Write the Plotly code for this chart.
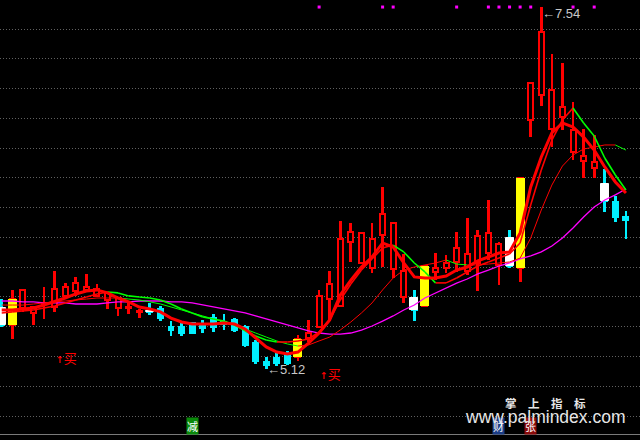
import plotly.graph_objects as go

# ---------------- data ----------------
idx = list(range(60))
open_p = [5.528, 5.415, 5.528, 5.495, 5.555, 5.535, 5.609, 5.642, 5.649, 5.609,
          5.582, 5.528, 5.528, 5.502, 5.508, 5.522, 5.401, 5.401, 5.428, 5.421,
          5.461, 5.435, 5.448, 5.401, 5.294, 5.167, 5.194, 5.214, 5.201, 5.328,
          5.401, 5.588, 5.542, 5.969, 5.829, 5.796, 6.016, 5.789, 5.602, 5.595,
          5.542, 5.769, 5.796, 5.836, 5.776, 5.829, 5.896, 5.816, 5.996, 5.796,
          6.785, 6.952, 6.725, 6.805, 6.571, 6.511, 6.464, 6.357, 6.237, 6.137]
high_p = [5.588, 5.649, 5.649, 5.542, 5.669, 5.776, 5.695, 5.735, 5.756, 5.689,
          5.635, 5.602, 5.562, 5.522, 5.562, 5.542, 5.441, 5.435, 5.435, 5.448,
          5.488, 5.488, 5.462, 5.415, 5.314, 5.201, 5.228, 5.241, 5.348, 5.448,
          5.649, 5.776, 6.110, 6.096, 6.030, 6.096, 6.337, 6.096, 5.889, 5.649,
          5.809, 5.896, 5.883, 6.036, 6.130, 6.050, 6.250, 5.969, 6.050, 6.397,
          7.032, 7.540, 7.226, 7.166, 6.905, 6.725, 6.685, 6.457, 6.277, 6.177]
low_p = [5.401, 5.321, 5.502, 5.415, 5.455, 5.502, 5.588, 5.609, 5.635, 5.602,
         5.522, 5.475, 5.488, 5.461, 5.481, 5.441, 5.341, 5.341, 5.354, 5.361,
         5.368, 5.381, 5.368, 5.268, 5.154, 5.120, 5.141, 5.147, 5.174, 5.301,
         5.395, 5.448, 5.542, 5.836, 5.829, 5.762, 5.802, 5.729, 5.562, 5.441,
         5.542, 5.715, 5.762, 5.769, 5.749, 5.642, 5.849, 5.682, 5.796, 5.702,
         6.671, 6.879, 6.604, 6.718, 6.518, 6.397, 6.397, 6.170, 6.103, 5.990]
close_p = [5.415, 5.588, 5.649, 5.535, 5.562, 5.655, 5.669, 5.695, 5.669, 5.655,
           5.629, 5.595, 5.535, 5.508, 5.502, 5.461, 5.381, 5.361, 5.361, 5.395,
           5.401, 5.421, 5.381, 5.281, 5.174, 5.147, 5.161, 5.161, 5.321, 5.361,
           5.609, 5.689, 5.989, 6.036, 6.030, 5.989, 6.157, 6.096, 5.776, 5.515,
           5.809, 5.796, 5.829, 5.929, 5.889, 6.010, 6.030, 5.956, 5.809, 6.397,
           7.032, 7.373, 6.985, 6.872, 6.718, 6.544, 6.504, 6.244, 6.137, 6.117]

ma_thick = [5.515, 5.515, 5.522, 5.528, 5.548, 5.569, 5.595, 5.622, 5.642, 5.649,
            5.629, 5.595, 5.569, 5.535, 5.522, 5.502, 5.461, 5.435, 5.421, 5.421,
            5.421, 5.428, 5.421, 5.388, 5.328, 5.268, 5.234, 5.221, 5.234, 5.294,
            5.361, 5.448, 5.615, 5.715, 5.802, 5.869, 5.963, 5.936, 5.829, 5.736,
            5.729, 5.729, 5.742, 5.782, 5.802, 5.843, 5.869, 5.896, 5.903, 6.030,
            6.337, 6.538, 6.698, 6.765, 6.738, 6.671, 6.584, 6.471, 6.371, 6.297]
ma_mid = [5.495, 5.502, 5.508, 5.515, 5.528, 5.542, 5.562, 5.582, 5.602, 5.622,
          5.635, 5.629, 5.609, 5.602, 5.595, 5.582, 5.555, 5.522, 5.495, 5.468,
          5.455, 5.441, 5.415, 5.375, 5.341, 5.314, 5.301, 5.301, 5.308, 5.321,
          5.368, 5.448, 5.582, 5.689, 5.782, 5.856, 5.929, 5.949, 5.903, 5.829,
          5.769, 5.696, 5.696, 5.729, 5.769, 5.809, 5.836, 5.862, 5.889, 5.963,
          6.217, 6.451, 6.651, 6.785, 6.865, 6.765, 6.678, 6.531, 6.417, 6.317]
ma_slow = [5.548, 5.548, 5.548, 5.555, 5.562, 5.569, 5.575, 5.582, 5.588, 5.595,
           5.595, 5.595, 5.588, 5.582, 5.569, 5.555, 5.535, 5.515, 5.495, 5.475,
           5.455, 5.435, 5.415, 5.388, 5.361, 5.334, 5.308, 5.288, 5.274, 5.281,
           5.308, 5.334, 5.381, 5.435, 5.495, 5.562, 5.649, 5.729, 5.782, 5.802,
           5.816, 5.829, 5.849, 5.822, 5.816, 5.816, 5.822, 5.829, 5.836, 5.862,
           5.996, 6.183, 6.350, 6.477, 6.551, 6.591, 6.604, 6.618, 6.618, 6.584]
ma_long = [5.575, 5.575, 5.569, 5.569, 5.562, 5.562, 5.562, 5.555, 5.555, 5.555,
           5.562, 5.569, 5.569, 5.575, 5.575, 5.575, 5.569, 5.569, 5.562, 5.548,
           5.535, 5.522, 5.508, 5.495, 5.475, 5.455, 5.435, 5.415, 5.395, 5.375,
           5.361, 5.354, 5.354, 5.361, 5.381, 5.408, 5.441, 5.475, 5.515, 5.548,
           5.595, 5.629, 5.662, 5.695, 5.722, 5.756, 5.782, 5.809, 5.829, 5.856,
           5.876, 5.903, 5.943, 5.996, 6.063, 6.137, 6.203, 6.250, 6.284, 6.324]

yellow_idx = [1, 28, 40, 49]
white_idx = [0, 14, 39, 48, 57]
signal_idx = [30, 36, 37, 43, 46, 47, 48, 49, 50, 54, 56]
signal_level = 7.54
buy_idx = [5, 30]
buy_price = [5.20, 5.09]
buy_arrow = "↑"
buy_word = "买"
tag_idx = [18, 47, 50]
tag_text = ["减", "财", "张"]
tag_bg = ["#0a8a0a", "#1b3d86", "#8a0a0a"]
tag_level = 4.74

# ---------------- styles ----------------
RED = "#FF0000"
CYAN = "#00F0FF"
YELLOW = "#FFFF00"
GREEN = "#00FF00"
MAGENTA = "#FF00FF"
BG = "#000000"

fig = go.Figure()

up = [c >= o for o, c in zip(open_p, close_p)]
col = [RED if u else CYAN for u in up]

# wicks
fig.add_trace(go.Bar(
    x=idx, y=[h - l for h, l in zip(high_p, low_p)], base=low_p, width=0.26,
    marker=dict(color=col, line=dict(width=0)), hoverinfo="skip"))

# bodies (hollow red, solid cyan)
body_lo = [min(o, c) for o, c in zip(open_p, close_p)]
body_h = [max(abs(c - o), 0.004) for o, c in zip(open_p, close_p)]
fig.add_trace(go.Bar(
    x=idx, y=body_h, base=body_lo, width=0.47,
    marker=dict(color=[BG if u else CYAN for u in up], line=dict(color=col, width=2)),
    hoverinfo="skip"))

# yellow sticks
fig.add_trace(go.Bar(
    x=yellow_idx,
    y=[max(abs(close_p[i] - open_p[i]), 0.004) for i in yellow_idx],
    base=[min(close_p[i], open_p[i]) for i in yellow_idx],
    width=0.85, marker=dict(color=YELLOW, line=dict(width=0)), hoverinfo="skip"))

# white sticks
fig.add_trace(go.Bar(
    x=white_idx,
    y=[max(abs(close_p[i] - open_p[i]), 0.004) for i in white_idx],
    base=[min(close_p[i], open_p[i]) for i in white_idx],
    width=0.76, marker=dict(color="#FFFFFF", line=dict(color="#FFFFFF", width=1)),
    hoverinfo="skip"))


def two_colour(values, width):
    xs = {RED: [], GREEN: []}
    ys = {RED: [], GREEN: []}
    for i in range(1, len(values)):
        c = RED if values[i] >= values[i - 1] else GREEN
        xs[c] += [idx[i - 1], idx[i], None]
        ys[c] += [values[i - 1], values[i], None]
    for c in (RED, GREEN):
        fig.add_trace(go.Scatter(x=xs[c], y=ys[c], mode="lines",
                                 line=dict(color=c, width=width),
                                 hoverinfo="skip", connectgaps=False))


fig.add_trace(go.Scatter(x=idx, y=ma_long, mode="lines",
                         line=dict(color=MAGENTA, width=1.3), hoverinfo="skip"))
two_colour(ma_slow, 1)
two_colour(ma_mid, 1.6)
fig.add_trace(go.Scatter(x=idx, y=ma_thick, mode="lines",
                         line=dict(color=RED, width=3), hoverinfo="skip"))

# signal dots along the top
fig.add_trace(go.Scatter(x=signal_idx, y=[signal_level] * len(signal_idx), mode="markers",
                         marker=dict(symbol="square", size=3, color=MAGENTA),
                         hoverinfo="skip"))

annotations = []
for k, p in zip(buy_idx, buy_price):
    annotations.append(dict(
        x=k - 0.1, y=p, xref="x", yref="y",
        text=f'<span style="font-family:DejaVu Sans Mono">{buy_arrow}</span>{buy_word}',
        showarrow=False, xanchor="left", yanchor="middle",
        font=dict(family="Noto Sans CJK SC", size=13, color=RED)))

lo_i = min(range(len(low_p)), key=lambda i: low_p[i])
hi_i = max(range(len(high_p)), key=lambda i: high_p[i])
annotations.append(dict(x=lo_i - 0.12, y=low_p[lo_i], xref="x", yref="y",
                        text=f"←{low_p[lo_i]:.2f}", showarrow=False,
                        xanchor="left", yanchor="middle",
                        font=dict(family="Liberation Sans, DejaVu Sans", size=13, color="#C8C8C8")))
annotations.append(dict(x=hi_i - 0.12, y=high_p[hi_i], xref="x", yref="y",
                        text=f"←{high_p[hi_i]:.2f}", showarrow=False,
                        xanchor="left", yanchor="middle", yshift=-6,
                        font=dict(family="Liberation Sans, DejaVu Sans", size=13, color="#C8C8C8")))

for k, t, bgc in zip(tag_idx, tag_text, tag_bg):
    annotations.append(dict(x=k, y=tag_level, xref="x", yref="y", text=t, showarrow=False,
                            xanchor="center", yanchor="middle", bgcolor=bgc, borderpad=0,
                            font=dict(family="Noto Sans CJK SC", size=11, color="#FFFFFF")))

annotations.append(dict(x=0.852, y=0.072, xref="paper", yref="paper",
                        text="<b>掌\u3000上\u3000指\u3000标</b>", showarrow=False,
                        xanchor="center", yanchor="middle",
                        font=dict(family="Noto Sans CJK SC", size=11.5, color="#E6E6E6")))
annotations.append(dict(x=0.852, y=0.039, xref="paper", yref="paper",
                        text="www.palmindex.com", showarrow=False,
                        xanchor="center", yanchor="middle",
                        font=dict(family="Liberation Sans", size=17.5, color="#E6E6E6")))

fig.update_layout(
    width=640, height=440,
    margin=dict(l=0, r=0, t=0, b=6, pad=0),
    paper_bgcolor=BG, plot_bgcolor=BG,
    barmode="overlay", bargap=0, showlegend=False,
    hovermode=False,
    annotations=annotations,
    xaxis=dict(range=[-0.163, 60.33], showgrid=False, zeroline=False,
               showticklabels=False, ticks="", showline=True,
               linecolor="#7A7A7A", linewidth=1, fixedrange=True),
    yaxis=dict(range=[4.686, 7.587], showgrid=True, gridcolor="#606060",
               griddash="1px,2px", gridwidth=1, tick0=7.393, dtick=0.199,
               zeroline=False, showticklabels=False, ticks="", showline=False,
               fixedrange=True),
)

fig.write_html("out.html", config={"displayModeBar": False},
               post_script="document.body.style.margin='0';"
                           "document.body.style.overflow='hidden';"
                           "document.body.style.background='#000';")
